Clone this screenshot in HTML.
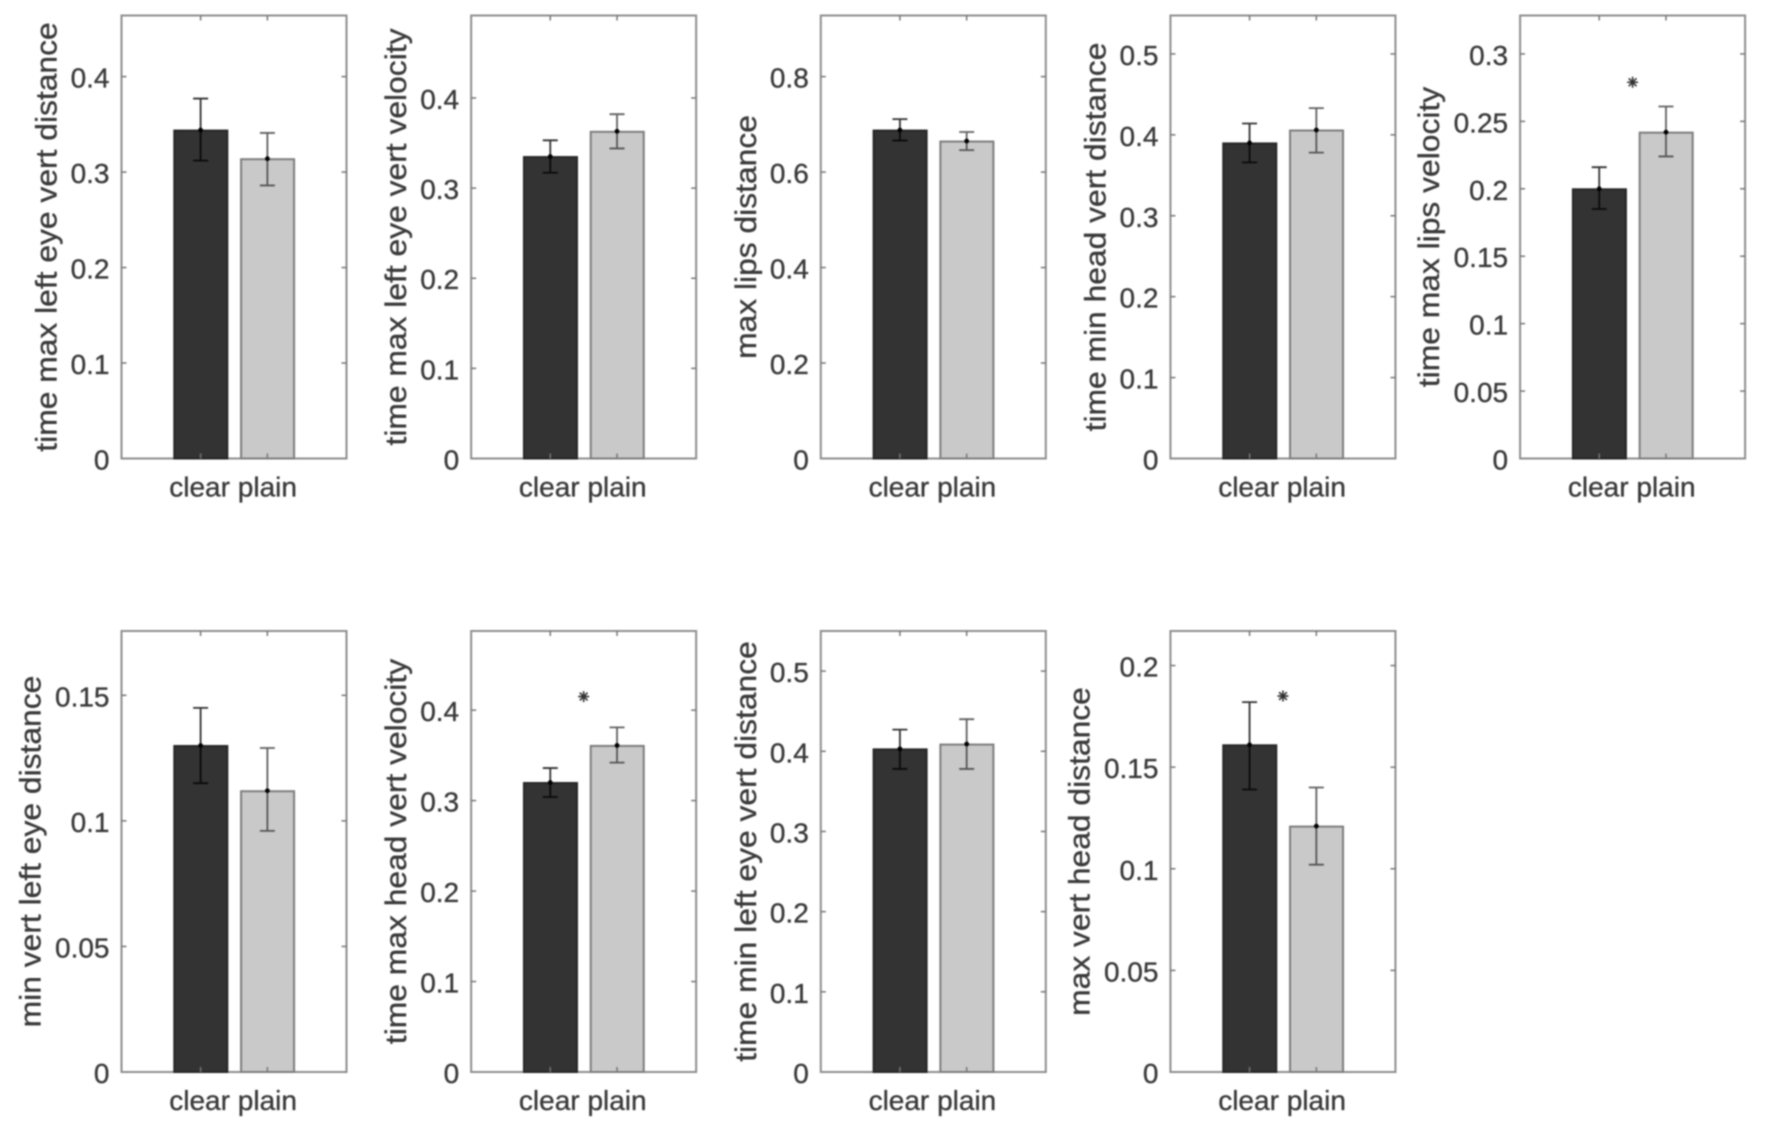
<!DOCTYPE html>
<html lang="en">
<head>
<meta charset="utf-8">
<title>Clear vs plain speech measures</title>
<style>
html,body{margin:0;padding:0;background:#fff;width:1772px;height:1138px;overflow:hidden}
svg{display:block;filter:blur(0.9px)}
text{font-family:"Liberation Sans",Arial,sans-serif;fill:#3a3a3a;stroke:#3a3a3a;stroke-width:0.35px}
</style>
</head>
<body>
<svg id="chart" xmlns="http://www.w3.org/2000/svg" width="1772" height="1138" viewBox="0 0 1772 1138"></svg>
<script>
const panelLabels = ["time max left eye vert distance","time max left eye vert velocity","max lips distance","time min head vert distance","time max lips velocity","min vert left eye distance","time max head vert velocity","time min left eye vert distance","max vert head distance"];
const categories = ["clear","plain"];
const clearValues = [0.344,0.335,0.688,0.390,0.200,0.130,0.320,0.403,0.161];
const plainValues = [0.314,0.363,0.665,0.406,0.242,0.112,0.361,0.409,0.121];
const clearUpper = [0.377,0.353,0.711,0.414,0.216,0.145,0.336,0.427,0.182];
const clearLower = [0.312,0.317,0.666,0.366,0.185,0.115,0.304,0.378,0.139];
const plainUpper = [0.341,0.382,0.684,0.433,0.261,0.129,0.381,0.440,0.140];
const plainLower = [0.286,0.344,0.646,0.378,0.224,0.096,0.342,0.378,0.102];
const yMaxValues = [0.464,0.4915,0.928,0.5475,0.3285,0.1756,0.4875,0.55,0.217];
const starValues = [null,null,null,null,0.279,null,0.415,null,0.185];
const tickLabels = [
  ["0","0.1","0.2","0.3","0.4"],
  ["0","0.1","0.2","0.3","0.4"],
  ["0","0.2","0.4","0.6","0.8"],
  ["0","0.1","0.2","0.3","0.4","0.5"],
  ["0","0.05","0.1","0.15","0.2","0.25","0.3"],
  ["0","0.05","0.1","0.15"],
  ["0","0.1","0.2","0.3","0.4"],
  ["0","0.1","0.2","0.3","0.4","0.5"],
  ["0","0.05","0.1","0.15","0.2"]
];

const svg = document.getElementById('chart');
const NS = 'http://www.w3.org/2000/svg';
const PANEL_W = 225, X_MIN = -0.185, X_MAX = 3.185, BAR_W = 0.8, TICK = 5, COLS = 5, COL_STEP = 349.65, LEFT0 = 121.5;
const ROW_TOP = [15.5, 631], ROW_BOTTOM = [458.5, 1072];

function mk(parent, tag, attrs, txt) {
  const el = document.createElementNS(NS, tag);
  for (const k in attrs) el.setAttribute(k, attrs[k]);
  if (txt !== undefined) el.textContent = txt;
  parent.appendChild(el);
  return el;
}

panelLabels.forEach(function (label, i) {
  const col = i < COLS ? i : i - COLS;
  const row = i < COLS ? 0 : 1;
  const left = LEFT0 + col * COL_STEP;
  const top = ROW_TOP[row], bottom = ROW_BOTTOM[row];
  const sx = function (v) { return left + (v - X_MIN) / (X_MAX - X_MIN) * PANEL_W; };
  const sy = function (v) { return bottom - v / yMaxValues[i] * (bottom - top); };

  const g = mk(svg, 'g', {});
  
  

  const frame = mk(g, 'rect', {x: left, y: top, width: PANEL_W, height: bottom - top, fill: '#fff', stroke: '#8e8e8e', 'stroke-width': 2});
  
  

  // y ticks on both sides, with labels
  tickLabels[i].forEach(function (t) {
    const y = sy(parseFloat(t));
    if (parseFloat(t) > 0) {
      const tl = mk(g, 'line', {x1: left, x2: left + TICK, y1: y, y2: y, stroke: '#777', 'stroke-width': 1.5});
      
      
      const tr = mk(g, 'line', {x1: left + PANEL_W, x2: left + PANEL_W - TICK, y1: y, y2: y, stroke: '#777', 'stroke-width': 1.5});
      
      
    }
    const lb = mk(g, 'text', {x: left - 12, y: y + 11, 'text-anchor': 'end', 'font-size': 28}, t);
    
    
  });

  // bars
  const values = [clearValues[i], plainValues[i]];
  const uppers = [clearUpper[i], plainUpper[i]];
  const lowers = [clearLower[i], plainLower[i]];
  const fills = ['#333333', '#c9c9c9'];
  const strokes = ['#262626', '#7d7d7d'];
  const errColor = ['#000000', '#3a3a3a'];
  categories.forEach(function (cat, c) {
    const x = c + 1;
    const bar = mk(g, 'rect', {x: sx(x - BAR_W / 2) + 0.4, y: sy(values[c]) + 0.5, width: sx(x + BAR_W / 2) - sx(x - BAR_W / 2) - 0.4, height: bottom - sy(values[c]) - 0.5, fill: fills[c], stroke: strokes[c], 'stroke-width': 2});
    
    
  });
  categories.forEach(function (cat, c) {
    const x = c + 1, px = sx(x);
    const tb = mk(g, 'line', {x1: px, x2: px, y1: bottom, y2: bottom - TICK, stroke: '#777', 'stroke-width': 1.5});
    
    
    const tt = mk(g, 'line', {x1: px, x2: px, y1: top, y2: top + TICK, stroke: '#777', 'stroke-width': 1.5});
    
    

    const eb = mk(g, 'path', {
      d: 'M' + px + ' ' + sy(lowers[c]) + 'V' + sy(uppers[c]) +
         'M' + (px - 7.5) + ' ' + sy(uppers[c]) + 'h15' +
         'M' + (px - 7.5) + ' ' + sy(lowers[c]) + 'h15',
      fill: 'none', stroke: errColor[c], 'stroke-width': 1.8, 'stroke-opacity': 0.8
    });
    
    

    const dot = mk(g, 'circle', {cx: px, cy: sy(values[c]), r: 2.4, fill: '#000'});
    
    

    const xl = mk(g, 'text', {x: px - (c === 0 ? 1 : 0), y: bottom + 38, 'text-anchor': 'middle', 'font-size': 28}, cat);
    
    
  });

  // significance marker
  if (starValues[i] !== null) {
    const cx = sx(1.5), cy = sy(starValues[i]);
    let d = '';
    [0, 45, 90, 135].forEach(function (deg) {
      const a = deg * Math.PI / 180, r = 5.5;
      d += 'M' + (cx - r * Math.cos(a)) + ' ' + (cy - r * Math.sin(a)) + 'L' + (cx + r * Math.cos(a)) + ' ' + (cy + r * Math.sin(a));
    });
    const star = mk(g, 'path', {d: d, fill: 'none', stroke: '#333', 'stroke-width': 1.6});
    
    
  }

  // y-axis title
  const widest = Math.max.apply(null, tickLabels[i].map(function (t) { return t.length; }));
  const lx = left - (widest > 3 ? 81 : 65);
  const ly = (top + bottom) / 2;
  const yt = mk(g, 'text', {transform: 'translate(' + lx + ' ' + ly + ') rotate(-90) scale(1.06 1)', 'text-anchor': 'middle', 'font-size': 30}, label);
  
  
});
</script>
</body>
</html>
